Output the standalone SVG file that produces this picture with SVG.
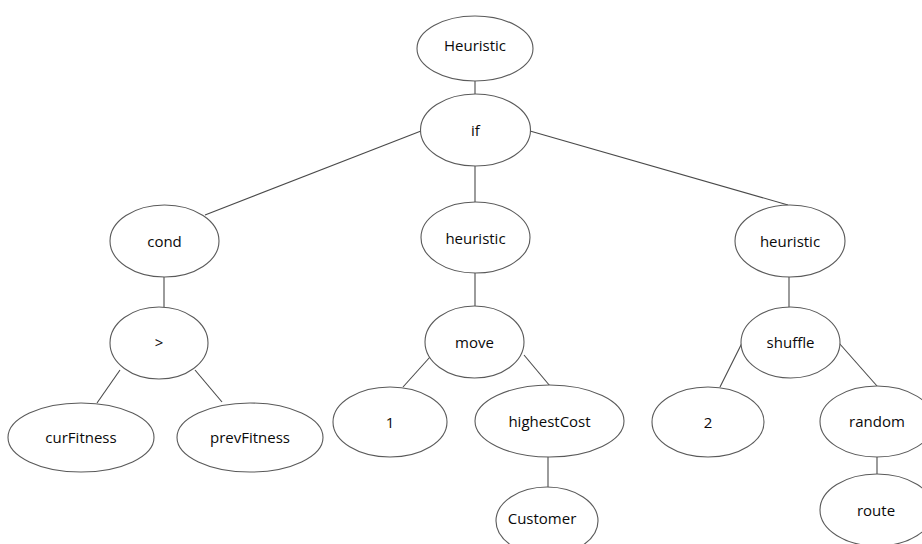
<svg xmlns="http://www.w3.org/2000/svg" width="922" height="544" viewBox="0 0 922 544">
  <style>
    .node ellipse { fill: #ffffff; stroke: #5a5a5a; stroke-width: 1.1; }
    .node text { font-family: "Open Sans", "Liberation Sans", sans-serif; font-size: 15px; fill: #0a0a0a; text-anchor: middle; dominant-baseline: central; }
    #edges line { stroke: #4a4a4a; stroke-width: 1.1; }
  </style>
  <rect width="922" height="544" fill="#ffffff"/>

  <!-- tree edges -->
  <g id="edges">
    <line x1="475" y1="81" x2="475" y2="94"/>
    <line x1="421" y1="131" x2="205" y2="215"/>
    <line x1="475" y1="166" x2="475" y2="202"/>
    <line x1="530" y1="131" x2="788" y2="205"/>
    <line x1="164" y1="277" x2="164" y2="307"/>
    <line x1="475" y1="273" x2="475" y2="306"/>
    <line x1="789" y1="277" x2="789" y2="307"/>
    <line x1="120" y1="370" x2="97" y2="403"/>
    <line x1="195" y1="370" x2="222" y2="402"/>
    <line x1="430" y1="357" x2="403" y2="387"/>
    <line x1="524" y1="355" x2="550" y2="386"/>
    <line x1="742" y1="343" x2="720" y2="387"/>
    <line x1="839" y1="343" x2="877" y2="386"/>
    <line x1="548" y1="457" x2="548" y2="487"/>
    <line x1="877" y1="457" x2="877" y2="474"/>
  </g>

  <g id="n-Heuristic" class="node"><ellipse cx="475" cy="48.5" rx="58" ry="32.5"/><text x="475" y="45">Heuristic</text></g>
  <g id="n-if" class="node"><ellipse cx="475.5" cy="130" rx="55" ry="36"/><text x="475.5" y="130">if</text></g>

  <g id="n-cond" class="node"><ellipse cx="164.5" cy="241" rx="54.5" ry="36"/><text x="164.5" y="241">cond</text></g>
  <g id="n-heuristic-mid" class="node"><ellipse cx="475.5" cy="237.5" rx="54.5" ry="35.5"/><text x="475.5" y="238">heuristic</text></g>
  <g id="n-heuristic-right" class="node"><ellipse cx="790" cy="241" rx="55" ry="36"/><text x="790" y="241">heuristic</text></g>

  <g id="n-gt" class="node"><ellipse cx="159" cy="343" rx="49" ry="36"/><text x="159" y="342">&gt;</text></g>
  <g id="n-move" class="node"><ellipse cx="474.5" cy="342" rx="49.5" ry="36"/><text x="474.5" y="342">move</text></g>
  <g id="n-shuffle" class="node"><ellipse cx="790.5" cy="342.5" rx="49.5" ry="35.5"/><text x="790.5" y="342">shuffle</text></g>

  <g id="n-curFitness" class="node"><ellipse cx="81" cy="437.5" rx="73" ry="34.5"/><text x="81" y="437">curFitness</text></g>
  <g id="n-prevFitness" class="node"><ellipse cx="250" cy="437.5" rx="73" ry="34.5"/><text x="250" y="437">prevFitness</text></g>
  <g id="n-1" class="node"><ellipse cx="390" cy="422" rx="57" ry="35"/><text x="390" y="422">1</text></g>
  <g id="n-highestCost" class="node"><ellipse cx="549.5" cy="421" rx="74.5" ry="36"/><text x="549.5" y="421">highestCost</text></g>
  <g id="n-2" class="node"><ellipse cx="708" cy="422" rx="56" ry="35"/><text x="708" y="422">2</text></g>
  <g id="n-random" class="node"><ellipse cx="877" cy="421.5" rx="57" ry="35.5"/><text x="877" y="421">random</text></g>

  <g id="n-Customer" class="node"><ellipse cx="547" cy="521" rx="51" ry="34"/><text x="542" y="518">Customer</text></g>
  <g id="n-route" class="node"><ellipse cx="877" cy="510" rx="57" ry="36"/><text x="876" y="510">route</text></g>
</svg>
